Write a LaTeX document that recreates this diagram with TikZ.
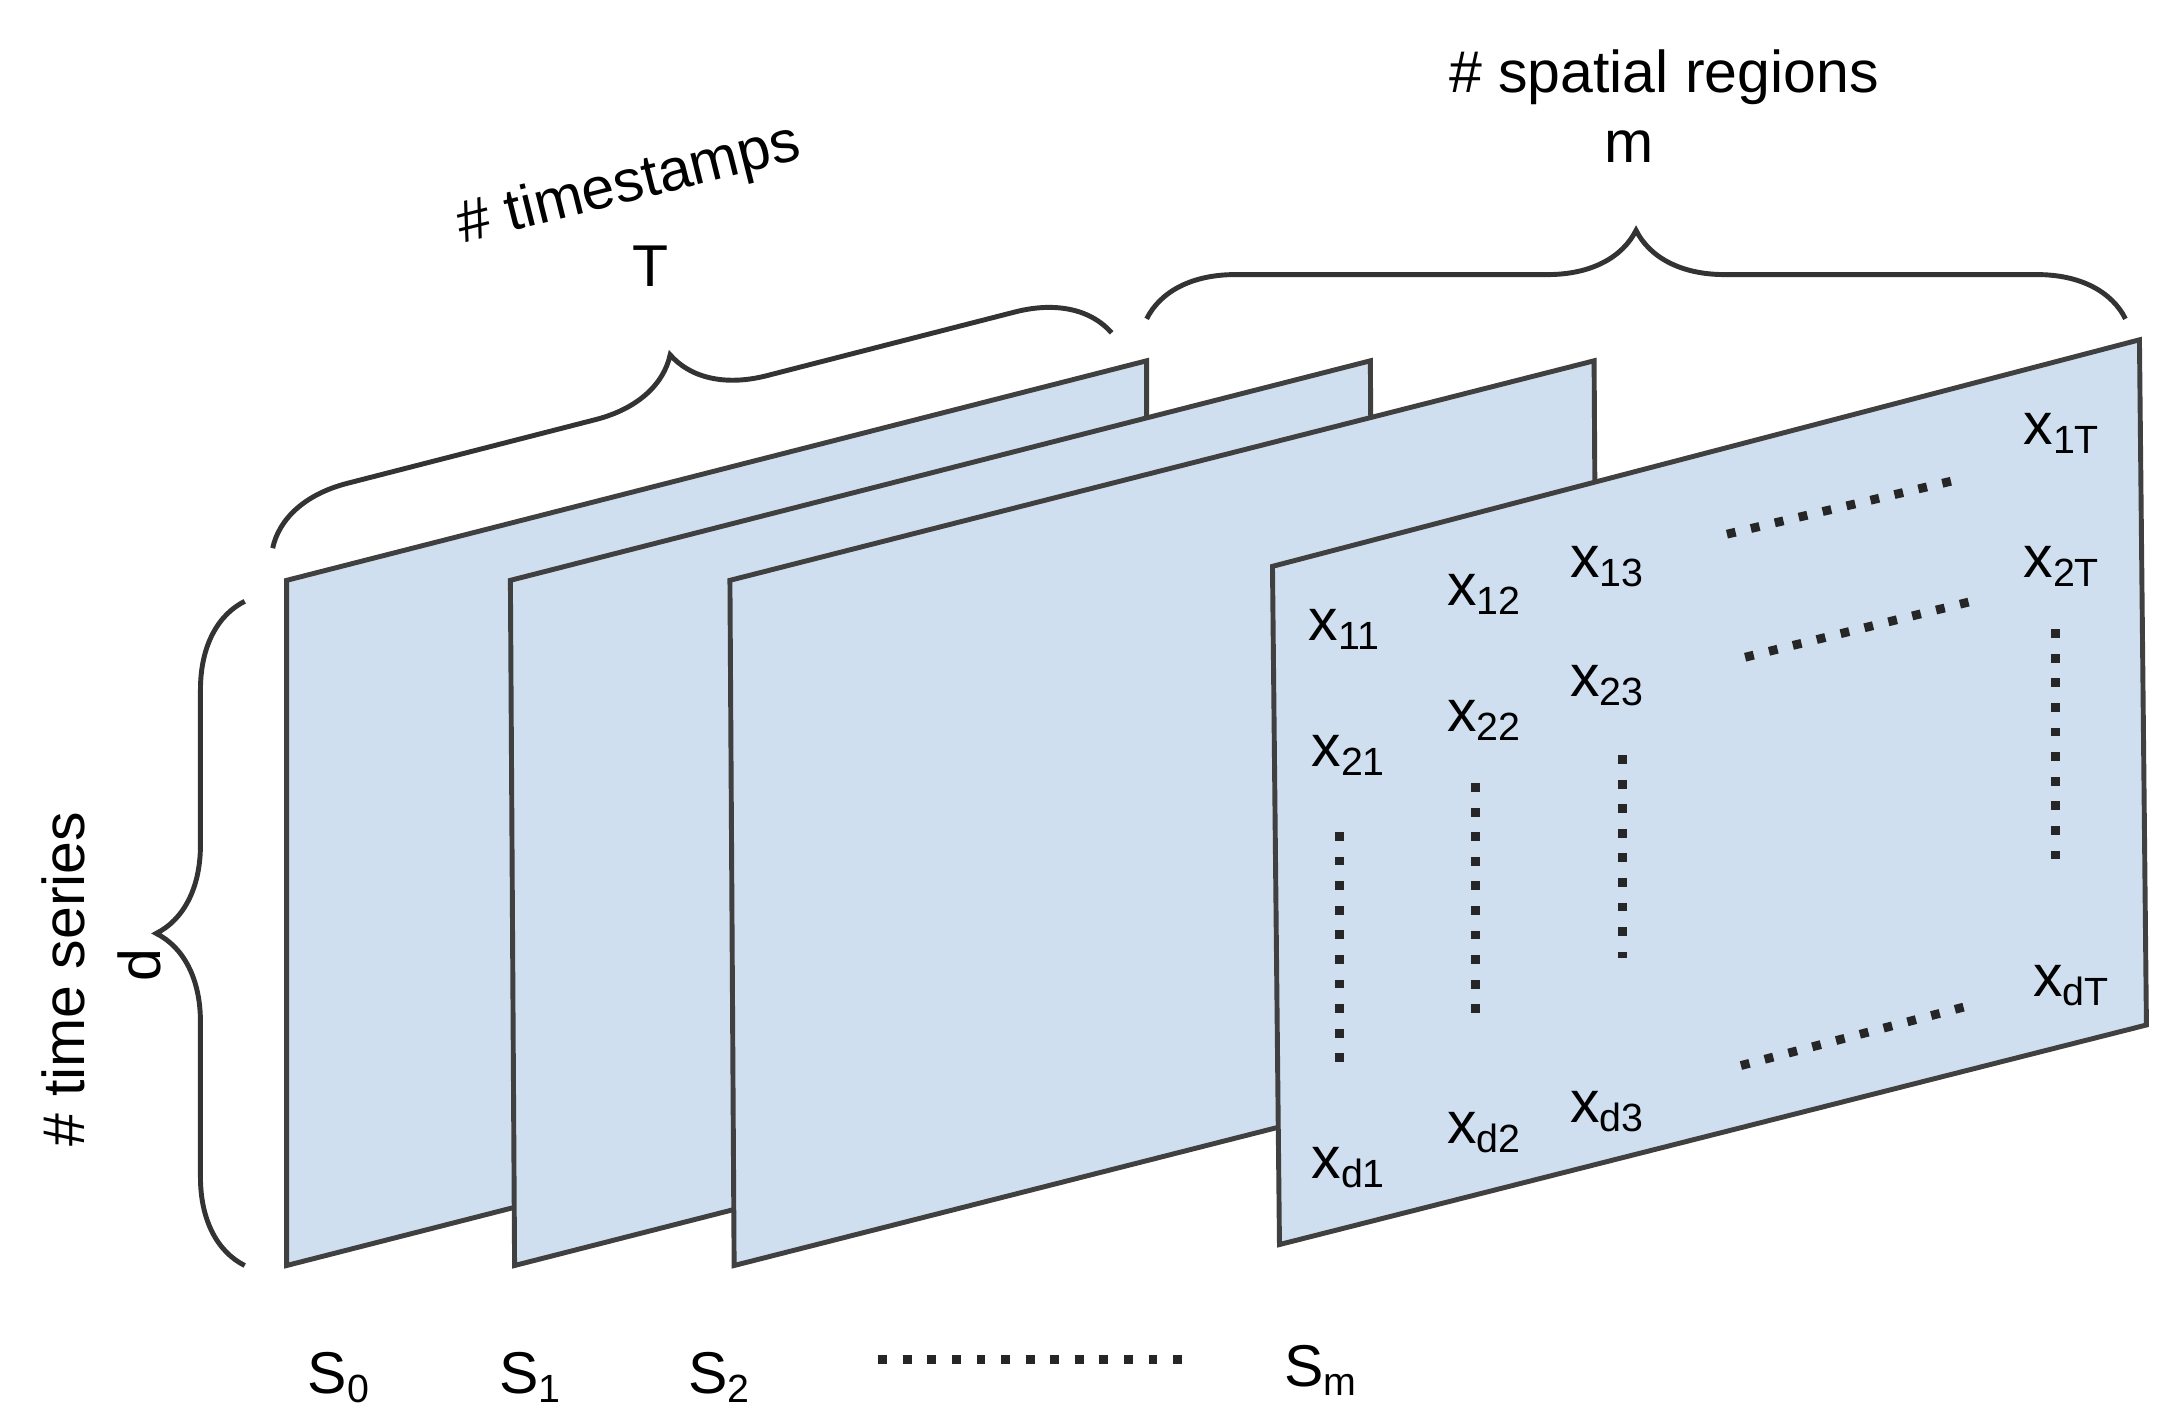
\documentclass[tikz,border=0pt]{standalone}
\usepackage{fontspec}
\setmainfont{Liberation Sans}
\usetikzlibrary{decorations.pathreplacing}
\definecolor{panel}{RGB}{207,223,240}
\newcommand{\sbs}[1]{\textsubscript{#1}}
\begin{document}
\begin{tikzpicture}[x=0.01cm,y=-0.01cm,
  pan/.style={fill=panel,draw=black!75,line width=1pt},
  dotl/.style={line width=1.8pt,dash pattern=on 1.8pt off 3.2pt,black!85},
  lab/.style={font=\fontsize{12}{14}\selectfont,inner sep=0pt},
  br/.style={decorate,decoration={brace,amplitude=18pt},line width=1pt,black!80}]
\useasboundingbox (0,0) rectangle (1554,1020);
\draw[pan] (205,415) -- (820,258) -- (820,748) -- (205,905) -- cycle;
\draw[pan] (365,415) -- (980,258) -- (983,748) -- (368,905) -- cycle;
\draw[pan] (522,415) -- (1140,258) -- (1143,748) -- (525,905) -- cycle;
\draw[pan] (910,405) -- (1530,243) -- (1535,733) -- (915,890) -- cycle;
% braces
\coordinate (b1) at (175,905); \coordinate (b2) at (175,430);
\draw[br] (b1) -- (b2);
\node[lab,rotate=90] (ts) at (45,700) {\# time series};
\node[lab,rotate=90] (d) at (100,690) {d};
\coordinate (c1) at (195,392); \coordinate (c2) at (795,238);
\draw[br] (c1) -- (c2);
\node[lab,rotate=14] (tsl) at (450,133) {\# timestamps};
\node[lab] (T) at (465,190) {T};
\coordinate (e1) at (820,228); \coordinate (e2) at (1520,228);
\draw[br] (e1) -- (e2);
\node[lab] (sr) at (1190,55) {\# spatial regions};
\node[lab] (m) at (1165,105) {m};
% matrix labels
\node[lab] (x11) at (962,450) {x\sbs{11}};
\node[lab] (x12) at (1062,425) {x\sbs{12}};
\node[lab] (x13) at (1150,405) {x\sbs{13}};
\node[lab] (x1T) at (1475,310) {x\sbs{1T}};
\node[lab] (x21) at (965,540) {x\sbs{21}};
\node[lab] (x22) at (1062,515) {x\sbs{22}};
\node[lab] (x23) at (1150,490) {x\sbs{23}};
\node[lab] (x2T) at (1475,405) {x\sbs{2T}};
\node[lab] (xd1) at (965,835) {x\sbs{d1}};
\node[lab] (xd2) at (1062,810) {x\sbs{d2}};
\node[lab] (xd3) at (1150,795) {x\sbs{d3}};
\node[lab] (xdT) at (1482,705) {x\sbs{dT}};
\draw[dotl] (958,595) -- (958,765);
\draw[dotl] (1055,560) -- (1055,725);
\draw[dotl] (1160,540) -- (1160,685);
\draw[dotl] (1470,450) -- (1470,615);
\draw[dotl] (1235,382) -- (1400,343);
\draw[dotl] (1248,470) -- (1410,430);
\draw[dotl] (1245,762) -- (1405,720);
% bottom
\node[lab] (s0) at (243,985) {S\sbs{0}};
\node[lab] (s1) at (380,985) {S\sbs{1}};
\node[lab] (s2) at (515,985) {S\sbs{2}};
\node[lab] (sm) at (945,980) {S\sbs{m}};
\draw[dotl] (628,972) -- (855,972);
\end{tikzpicture}
\end{document}
